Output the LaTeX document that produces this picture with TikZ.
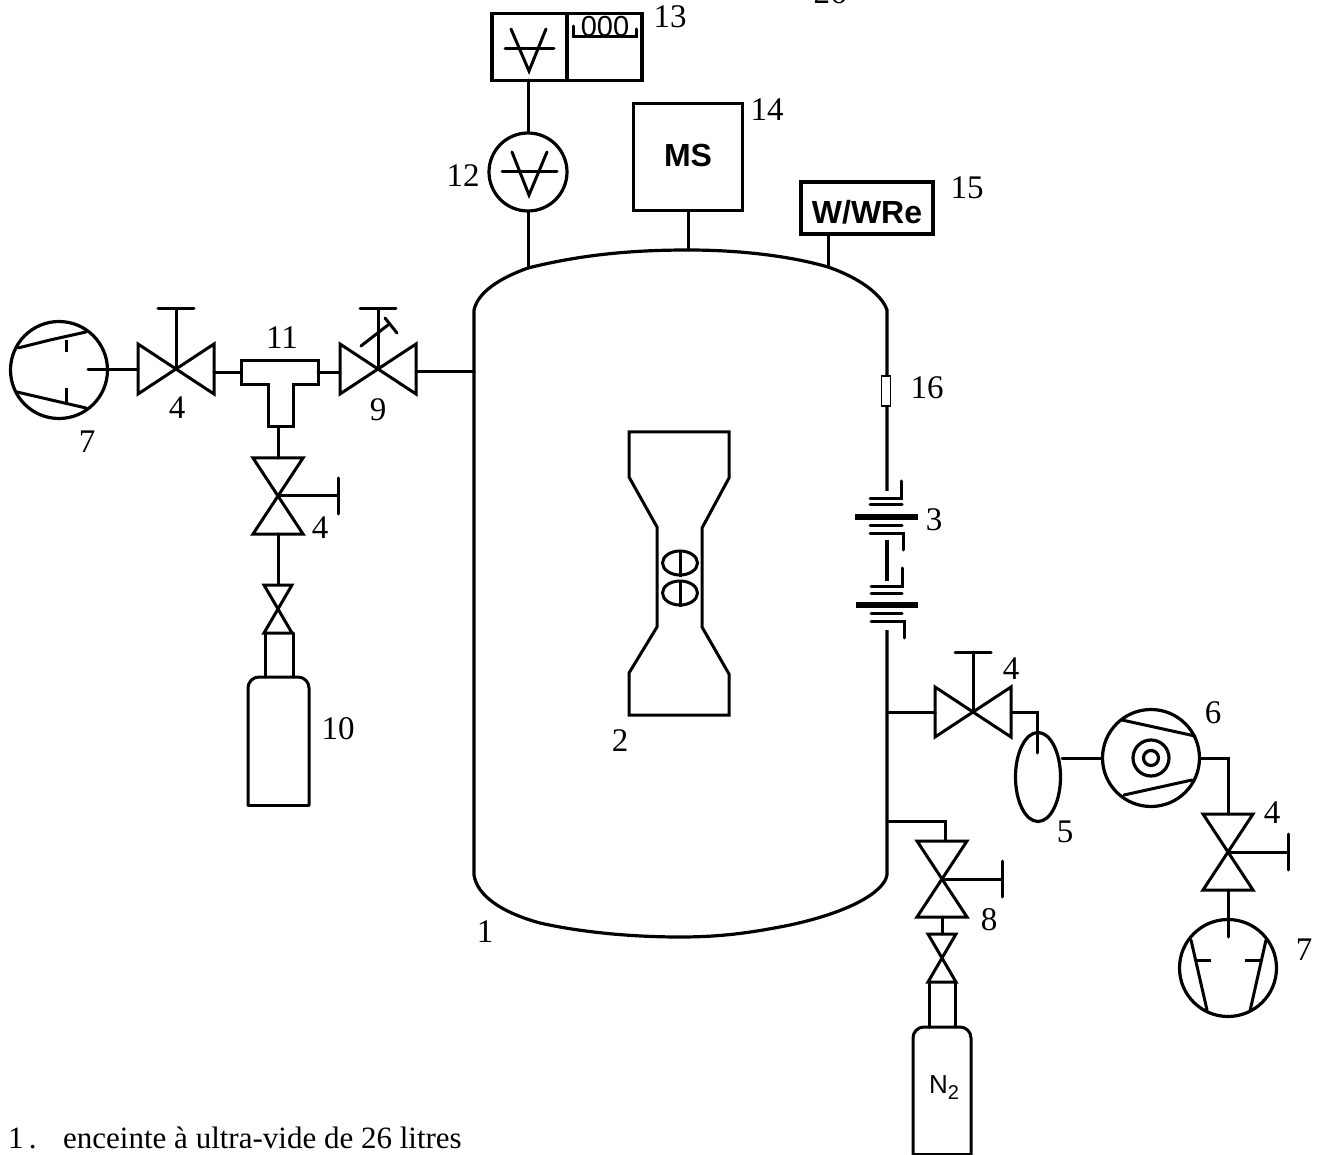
\documentclass[tikz,border=0pt]{standalone}
\usepackage{fontspec}
\usetikzlibrary{shapes.geometric}
\setmainfont{Liberation Serif}
\newfontfamily\boxfont{Liberation Sans}

\tikzset{
    pipe/.style={line width=3pt,line cap=round,line join=miter},
    wall/.style={line width=3.2pt},
    thickplate/.style={line width=5.6pt},
    num/.style={font=\fontsize{33}{33}\selectfont,inner sep=0pt},
    boxtext/.style={font=\boxfont\bfseries\fontsize{32}{32}\selectfont,inner sep=0pt},
}

% valve lying on a horizontal pipe, handle upwards
\newcommand{\hvalve}[3]{
    \coordinate (#1) at (#2,#3);
    \coordinate (#1l) at (#2-38,#3);
    \coordinate (#1r) at (#2+38,#3);
    \draw[pipe] (#2-38,#3-25) -- (#2+38,#3+25) -- (#2+38,#3-25) -- (#2-38,#3+25) -- cycle;
    \draw[pipe] (#1) -- (#2,#3-60);
    \draw[pipe] (#2-18,#3-60) -- (#2+18,#3-60);
}
% valve standing on a vertical pipe, handle to the right
\newcommand{\vvalve}[3]{
    \coordinate (#1) at (#2,#3);
    \coordinate (#1t) at (#2,#3-38);
    \coordinate (#1b) at (#2,#3+38);
    \draw[pipe] (#2-25,#3-38) -- (#2+25,#3+38) -- (#2-25,#3+38) -- (#2+25,#3-38) -- cycle;
    \draw[pipe] (#1) -- (#2+60,#3);
    \draw[pipe] (#2+60,#3-18) -- (#2+60,#3+18);
}
% small bottle valve
\newcommand{\bottlevalve}[3]{
    \coordinate (#1t) at (#2,#3-24);
    \coordinate (#1b) at (#2,#3+24);
    \draw[pipe] (#2-14,#3-24) -- (#2+14,#3+24) -- (#2-14,#3+24) -- (#2+14,#3-24) -- cycle;
}

\begin{document}
\begin{tikzpicture}[x=1pt,y=-1pt]
    \clip (0,0) rectangle (1318,1155);
    \fill[white] (0,0) rectangle (1318,1155);

    % vessel
    \coordinate (gaugeport) at (528,268);
    \coordinate (msport) at (688,250);
    \coordinate (tcport) at (828,267);
    \coordinate (leftport) at (474,372);
    \coordinate (pumpport) at (887,712);
    \coordinate (nitroport) at (887,821);
    \draw[wall] (887,630) -- (887,875) .. controls (884,892) and (850,912) .. (790,925)
        .. controls (750,933) and (720,937) .. (680,937)
        .. controls (630,937) and (580,932) .. (540,923)
        .. controls (500,912) and (477,895) .. (474,875) -- (474,310)
        .. controls (478,292) and (500,278) .. (gaugeport)
        .. controls (580,255) and (630,250) .. (msport)
        .. controls (740,250) and (790,256) .. (tcport)
        .. controls (860,278) and (882,295) .. (887,310) -- (887,491);
    \node[num] (lab1) at (485,932) {1};

    % specimen
    \draw[pipe,line cap=butt] (629,432) -- (729,432) -- (729,478) -- (702,528) -- (702,627) -- (729,674)
        -- (729,715) -- (629,715) -- (629,673) -- (657,627) -- (657,527) -- (629,477) -- cycle;
    \node[draw,pipe,ellipse,minimum width=35pt,minimum height=24pt,inner sep=0pt] (holeup) at (680,563) {};
    \node[draw,pipe,ellipse,minimum width=35pt,minimum height=24pt,inner sep=0pt] (holedown) at (680,593) {};
    \draw[pipe,line cap=butt] (holeup.north) -- (holeup.south);
    \draw[pipe,line cap=butt] (holedown.north) -- (holedown.south);
    \node[num] (lab2) at (620,741) {2};

    % gauge and display
    \node[draw,wall,circle,minimum size=78pt,inner sep=0pt] (gauge) at (528,172) {};
    \draw[pipe] (512,152) -- (529,195) -- (547,152);
    \draw[pipe] (502,172) -- (557,172);
    \draw[pipe] (gauge.south) -- (gaugeport);
    \node[num] (lab12) at (463,176) {12};

    \node[draw,wall,minimum width=150pt,minimum height=67pt,inner sep=0pt] (display) at (567,47) {};
    \coordinate (displaybot) at (528,80);
    \draw[wall] (display.north) -- (display.south);
    \draw[pipe] (511,29) -- (529,71) -- (546,29);
    \draw[pipe] (505,49) -- (554,49);
    \draw[pipe] (573,26) -- (573,37) -- (636,37) -- (636,29);
    \node[font=\boxfont\fontsize{29}{29}\selectfont,inner sep=0pt] (counter) at (605,27) {000};
    \draw[pipe] (displaybot) -- (gauge.north);
    \node[num] (lab13) at (670,17) {13};

    % mass spectrometer
    \node[draw,wall,minimum width=109pt,minimum height=107pt,inner sep=0pt] (ms) at (688,157) {};
    \node[boxtext] (mstext) at (688,155) {MS};
    \draw[pipe] (ms.south) -- (msport);
    \node[num] (lab14) at (767,110) {14};

    % thermocouple
    \node[draw,wall,minimum width=132pt,minimum height=52pt,inner sep=0pt] (tc) at (867,208) {};
    \node[boxtext] (tctext) at (867,212) {W/WRe};
    \coordinate (tcbot) at (828,234);
    \draw[pipe] (tcbot) -- (tcport);
    \node[num] (lab15) at (967,188) {15};

    % feedthrough on the wall
    \node[draw,line width=1.8pt,fill=white,minimum width=9pt,minimum height=30pt,inner sep=0pt] (fuse) at (886,391) {};
    \node[num] (lab16) at (927,388) {16};

    % upper flange
    \draw[pipe] (901,481) -- (901,499) -- (870,499);
    \draw[pipe] (870,505) -- (902,505);
    \draw[thickplate,line cap=butt] (855,517) -- (918,517);
    \draw[pipe] (870,525) -- (902,525);
    \draw[pipe] (870,533) -- (903,533) -- (903,550);
    \coordinate (flangeupbot) at (887,540);
    \coordinate (flangedowntop) at (887,581);
    \draw[wall] (flangeupbot) -- (flangedowntop);
    % lower flange
    \draw[pipe] (902,568) -- (902,586) -- (871,586);
    \draw[pipe] (871,593) -- (902,593);
    \draw[thickplate,line cap=butt] (856,605) -- (918,605);
    \draw[pipe] (871,613) -- (902,613);
    \draw[pipe] (871,621) -- (904,621) -- (904,638);
    \node[num] (lab3) at (934,520) {3};

    % left line
    \node[draw,wall,circle,minimum size=97pt,inner sep=0pt] (pumpleft) at (59,370) {};
    \coordinate (pumpleftin) at (88,370);
    \draw[pipe] (18,348) -- (50,340) -- (86,332);
    \draw[pipe] (17,392) -- (60,402) -- (86,408);
    \draw[pipe,line cap=butt] (66,340) -- (66,352);
    \draw[pipe,line cap=butt] (66,388) -- (66,402);
    \node[num] (lab7a) at (87,442) {7};

    \hvalve{valveleft}{176}{369}
    \draw[pipe] (pumpleftin) -- (valveleftl |- pumpleftin);
    \node[num] (lab4a) at (177,408) {4};

    \coordinate (teel) at (241,373);
    \coordinate (teer) at (318,373);
    \coordinate (teeb) at (278,427);
    \draw[pipe,line join=miter] (teel) -- (241,361) -- (318,361) -- (318,385) -- (293,385) -- (293,427)
        -- (268,427) -- (268,385) -- (241,385) -- cycle;
    \draw[pipe] (valveleftr |- teel) -- (teel);
    \node[num] (lab11) at (282,338) {11};

    \hvalve{valvenine}{378}{369}
    \draw[pipe] (361,346) -- (388,325);
    \draw[pipe] (385,318) -- (397,333);
    \draw[pipe] (teer) -- (valveninel |- teer);
    \draw[pipe] (valveniner |- leftport) -- (leftport);
    \node[num] (lab9) at (378,410) {9};

    \vvalve{valvegas}{278}{496}
    \draw[pipe] (teeb) -- (valvegast);
    \node[num] (lab4b) at (320,528) {4};

    \bottlevalve{bottlegas}{278}{609}
    \draw[pipe] (valvegasb) -- (bottlegast);
    \draw[pipe] (265,633) -- (265,677);
    \draw[pipe] (293,633) -- (293,677);
    \draw[pipe,rounded corners=11pt] (248,805) -- (248,677) -- (309,677) -- (309,805);
    \draw[pipe] (248,805) -- (309,805);
    \node[num] (lab10) at (338,729) {10};

    % right line, pumps
    \hvalve{valvepump}{973}{712}
    \draw[pipe] (pumpport) -- (valvepumpl);
    \node[num] (lab4c) at (1011,669) {4};

    \node[draw,wall,ellipse,minimum width=45pt,minimum height=89pt,inner sep=0pt] (trap) at (1038,777) {};
    \coordinate (trapin) at (1037,753);
    \draw[pipe] (valvepumpr) -- (1037,712) -- (trapin);
    \node[num] (lab5) at (1065,832) {5};

    \node[draw,wall,circle,minimum size=97pt,inner sep=0pt] (primary) at (1151,758) {};
    \node[draw,wall,circle,minimum size=36pt,inner sep=0pt] (rotor) at (1151,758) {};
    \node[draw,wall,circle,minimum size=15pt,inner sep=0pt] (shaft) at (1151,758) {};
    \draw[pipe] (1122,720) -- (1195,736);
    \draw[pipe] (1124,795) -- (1192,780);
    \draw[pipe] (trap.east |- primary.west) -- (primary.west);
    \node[num] (lab6) at (1213,713) {6};

    \vvalve{valveout}{1228}{852}
    \draw[pipe] (primary.east) -- (1228,758) -- (valveoutt);
    \node[num] (lab4d) at (1272,813) {4};

    \node[draw,wall,circle,minimum size=97pt,inner sep=0pt] (pumpright) at (1228,968) {};
    \coordinate (pumprightin) at (1228,937);
    \draw[pipe] (valveoutb) -- (pumprightin);
    \draw[pipe] (1191,940) -- (1207,1010);
    \draw[pipe] (1266,940) -- (1250,1011);
    \draw[pipe,line cap=butt] (1196,960) -- (1211,960);
    \draw[pipe,line cap=butt] (1245,960) -- (1260,960);
    \node[num] (lab7b) at (1304,950) {7};

    % nitrogen line
    \vvalve{valvenitro}{942}{879}
    \coordinate (nitrovalvein) at (945,841);
    \draw[pipe] (nitroport) -- (945,821) -- (nitrovalvein);
    \node[num] (lab8) at (989,920) {8};

    \bottlevalve{bottlenitro}{942}{958}
    \draw[pipe] (valvenitrob) -- (bottlenitrot);
    \draw[pipe] (929,982) -- (929,1027);
    \draw[pipe] (955,982) -- (955,1027);
    \draw[pipe,rounded corners=11pt] (913,1154) -- (913,1027) -- (971,1027) -- (971,1154);
    \draw[pipe] (913,1154) -- (971,1154);
    \node[font=\boxfont\fontsize{26}{26}\selectfont,inner sep=0pt] (nitrotext) at (944,1088) {N\raisebox{-6pt}{\fontsize{20}{20}\selectfont 2}};

    % text cut by the page
    \node[num] (labcut) at (830,-7) {26};
    \node[anchor=base west,font=\fontsize{31}{31}\selectfont,inner sep=0pt] (legendnum) at (8,1148) {1\,.};
    \node[anchor=base west,font=\fontsize{31}{31}\selectfont,inner sep=0pt] (legend) at (63,1148) {enceinte à ultra-vide de 26 litres};
\end{tikzpicture}
\end{document}
